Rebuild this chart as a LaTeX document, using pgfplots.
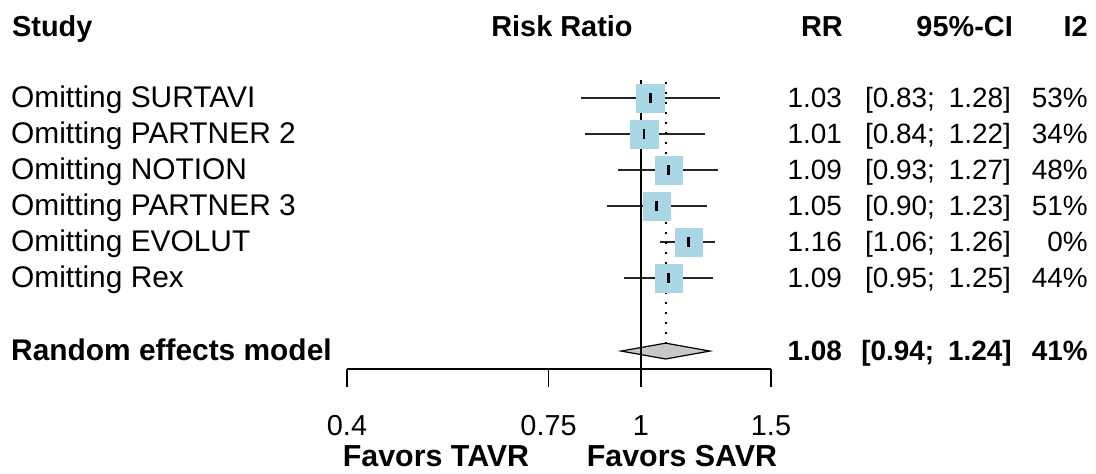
\documentclass[border=0pt]{standalone}
\usepackage{fontspec}
\setmainfont{Liberation Sans}
\usepackage{pgfplots}
\usepackage{pgfplotstable}
\pgfplotsset{compat=1.18}
\definecolor{boxblue}{RGB}{170,215,230}
\definecolor{diagray}{RGB}{200,200,200}
\newcommand\fs{\fontsize{28}{30}\selectfont}
\newcommand\fl{\fontsize{30}{32}\selectfont}
\newcommand\fh{\fontsize{29}{31}\selectfont}
\newcommand\ff{\fontsize{30.5}{32}\selectfont}
\newcommand\ft{\fontsize{29}{31}\selectfont}
\newcommand\gap{\hspace{0.5em}}

\pgfplotstableread{
row rr lo hi
1 1.03 0.83 1.28
2 1.01 0.84 1.22
3 1.09 0.93 1.27
4 1.05 0.90 1.23
5 1.16 1.06 1.26
6 1.09 0.95 1.25
}\studies

\begin{document}
\begin{tikzpicture}
\path[use as bounding box] (0,0) rectangle (1096bp,474bp);
\begin{axis}[
  at={(347bp,105bp)}, anchor=south west,
  scale only axis, width=424bp, height=307bp,
  xmode=log, xmin=0.4, xmax=1.5,
  ymin=-8.528, ymax=0,
  clip=false,
  axis x line=bottom, axis y line=none,
  axis line style={-, line width=1.5bp, black},
  xtick={0.4,0.75,1,1.5},
  xticklabels={0.4,0.75,1,1.5},
  minor xtick={},
  tick align=outside,
  major tick length=18bp,
  xtick style={line width=1.5bp, black},
  xticklabel style={font=\ft, anchor=base, inner sep=0pt, yshift=-48bp},
  log basis x=10,
]
% study boxes
\addplot[only marks, mark=square*, mark size=13.8bp,
  mark options={fill=boxblue, draw=boxblue}]
  table[x=rr, y expr=-\thisrow{row}] {\studies};
% confidence intervals
\addplot[black!85, line width=1.8bp] coordinates {(0.83,-1) (1.28,-1)};
\addplot[black!85, line width=1.8bp] coordinates {(0.84,-2) (1.22,-2)};
\addplot[black!85, line width=1.8bp] coordinates {(0.93,-3) (1.27,-3)};
\addplot[black!85, line width=1.8bp] coordinates {(0.90,-4) (1.23,-4)};
\addplot[black!85, line width=1.8bp] coordinates {(1.06,-5) (1.26,-5)};
\addplot[black!85, line width=1.8bp] coordinates {(0.95,-6) (1.25,-6)};
% point estimates
\addplot[only marks, mark=|, mark size=5bp, mark options={line width=2.5bp, black}]
  table[x=rr, y expr=-\thisrow{row}] {\studies};
% random effects diamond
\addplot[fill=diagray, draw=black, line width=1.2bp]
  coordinates {(0.94,-8.03) (1.08,-7.81) (1.24,-8.03) (1.08,-8.25)} -- cycle;
% dotted line at pooled estimate
\addplot[black, line width=2bp, dash pattern=on 2bp off 8bp]
  coordinates {(1.08,-0.55) (1.08,-7.8)};
% line of no effect
\addplot[black, line width=1.5bp] coordinates {(1,-0.5) (1,-8.528)};
\end{axis}

\begin{scope}[x=1bp, y=-1bp, yshift=474bp, every node/.style={inner sep=0pt, font=\fs}]
% header
\node[anchor=base west, font=\fh] at (12,37) {\bfseries Study};
\node[anchor=base, font=\fh] at (562,37) {\bfseries Risk Ratio};
\node[anchor=base east, font=\fh] at (843,37) {\bfseries RR};
\node[anchor=base east, font=\fh] at (1013,37) {\bfseries 95\%-CI};
\node[anchor=base east, font=\fh] at (1088,37) {\bfseries I2};
% rows
\node[anchor=base west, font=\fl] at (11,108) {Omitting SURTAVI};
\node[anchor=base west, font=\fl] at (11,144) {Omitting PARTNER 2};
\node[anchor=base west, font=\fl] at (11,180) {Omitting NOTION};
\node[anchor=base west, font=\fl] at (11,216) {Omitting PARTNER 3};
\node[anchor=base west, font=\fl] at (11,252) {Omitting EVOLUT};
\node[anchor=base west, font=\fl] at (11,288) {Omitting Rex};
\node[anchor=base east] at (842,108) {1.03};
\node[anchor=base east] at (842,144) {1.01};
\node[anchor=base east] at (842,180) {1.09};
\node[anchor=base east] at (842,216) {1.05};
\node[anchor=base east] at (842,252) {1.16};
\node[anchor=base east] at (842,288) {1.09};
\node[anchor=base east] at (1011,108) {[0.83;\gap1.28]};
\node[anchor=base east] at (1011,144) {[0.84;\gap1.22]};
\node[anchor=base east] at (1011,180) {[0.93;\gap1.27]};
\node[anchor=base east] at (1011,216) {[0.90;\gap1.23]};
\node[anchor=base east] at (1011,252) {[1.06;\gap1.26]};
\node[anchor=base east] at (1011,288) {[0.95;\gap1.25]};
\node[anchor=base east] at (1088,108) {53\%};
\node[anchor=base east] at (1088,144) {34\%};
\node[anchor=base east] at (1088,180) {48\%};
\node[anchor=base east] at (1088,216) {51\%};
\node[anchor=base east] at (1088,252) {0\%};
\node[anchor=base east] at (1088,288) {44\%};
% random effects row
\node[anchor=base west, font=\fl] at (11,361) {\bfseries Random effects model};
\node[anchor=base east] at (842,361) {\bfseries 1.08};
\node[anchor=base east] at (1012,361) {\bfseries [0.94;\gap1.24]};
\node[anchor=base east] at (1088,361) {\bfseries 41\%};
% favours labels
\node[anchor=base, font=\ff] at (436,467) {\bfseries Favors TAVR};
\node[anchor=base, font=\ff] at (682,467) {\bfseries Favors SAVR};
\end{scope}
\end{tikzpicture}
\end{document}
